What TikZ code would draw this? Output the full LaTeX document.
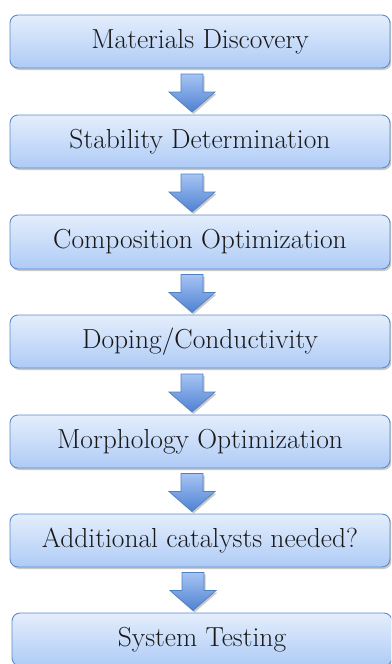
\documentclass[tikz,border=0pt]{standalone}
\usetikzlibrary{shadows,calc}
\definecolor{boxline}{HTML}{5A8BCB}
\definecolor{boxtop}{HTML}{E4EEFC}
\definecolor{boxbot}{HTML}{AECBF6}
\definecolor{arrline}{HTML}{4E80C4}
\definecolor{arrtop}{HTML}{A6C4F4}
\definecolor{arrbot}{HTML}{4F82D2}
\begin{document}
\begin{tikzpicture}[x=1pt,y=-1pt,
  box/.style={draw=boxline, line width=0.9pt, rounded corners=8pt,
    top color=boxtop, bottom color=boxbot,
    minimum width=380pt, minimum height=53pt, inner sep=0pt,
    font=\fontsize{27.5}{32}\selectfont, text=black!90,
    drop shadow={shadow xshift=1.5pt, shadow yshift=-2pt, opacity=0.3, fill=black!70}},
  blockarrow/.style={draw=arrline, line width=0.7pt, top color=arrtop, bottom color=arrbot,
    drop shadow={shadow xshift=1.5pt, shadow yshift=-2pt, opacity=0.3, fill=black!70}}
  ]
\useasboundingbox (0,0) rectangle (391,664);
\clip (0,0) rectangle (391,664);
\node[box] (b1) at (200,41.5) {Materials Discovery};
\node[box] (b2) at (200,141.5) {Stability Determination};
\node[box, minimum height=54pt] (b3) at (200,242) {Composition Optimization};
\node[box] (b4) at (200,341.5) {Doping/Conductivity};
\node[box] (b5) at (200,441.5) {Morphology Optimization};
\node[box] (b6) at (200,540.5) {Additional catalysts needed?};
\node[box] (b7) at (202,639.5) {System Testing};
\foreach \a/\b in {b1/b2,b2/b3,b3/b4,b4/b5,b5/b6,b6/b7}{
  \coordinate (m) at ($(\a.south)!0.5!(\b.north)+(-8,0)$);
  \path[blockarrow] ($(m)+(-11,-17.5)$) -- ++(22,0) -- ++(0,18) -- ++(12,0)
     -- ++(-23,20) -- ++(-23,-20) -- ++(12,0) -- cycle;
}
\end{tikzpicture}
\end{document}
